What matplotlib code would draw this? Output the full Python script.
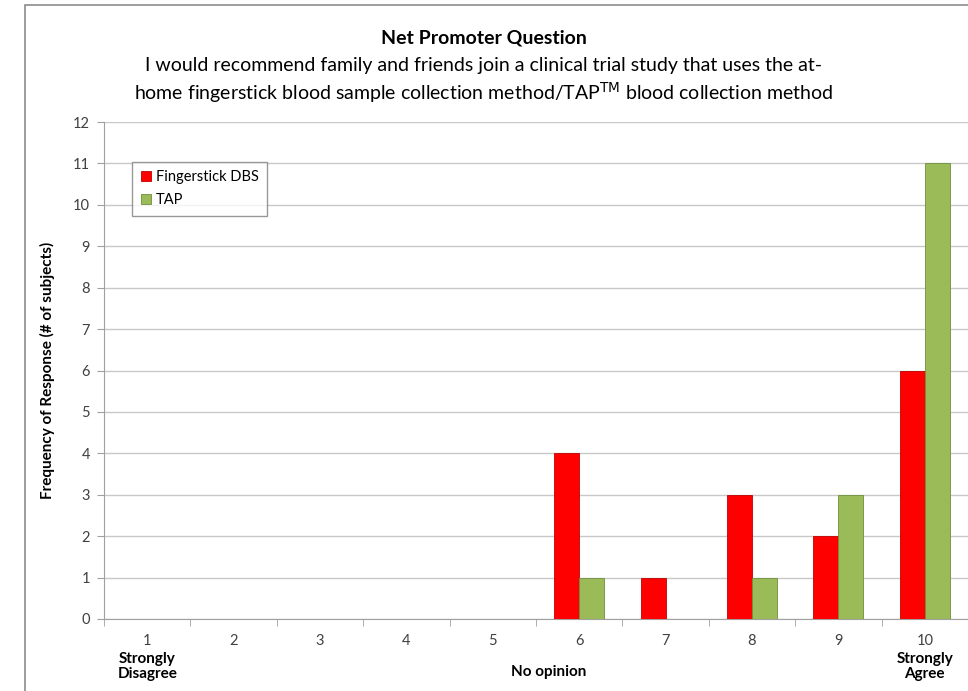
import numpy as np
import matplotlib.pyplot as plt
from matplotlib.patches import Rectangle

plt.rcParams['font.family'] = ['Lato', 'DejaVu Sans']

categories = ['1', '2', '3', '4', '5', '6', '7', '8', '9', '10']
fingerstick = [0, 0, 0, 0, 0, 4, 1, 3, 2, 6]
tap = [0, 0, 0, 0, 0, 1, 0, 1, 3, 11]
yticks = list(range(0, 13))


def main():
    fig = plt.figure(figsize=(9.68, 6.91), dpi=100)
    # outer frame (chart border, cut off on the right and bottom)
    fig.patches.append(Rectangle((25 / 968, -0.1), 1.2, 1.1 - 5 / 691,
                                 transform=fig.transFigure, fill=False,
                                 edgecolor='#8c8c8c', linewidth=1.2))

    ax = fig.add_axes([104 / 968, 1 - 619 / 691, 1 - 104 / 968, (619 - 122) / 691])
    x = np.arange(len(categories))
    w = 0.29
    ax.bar(x - w / 2, fingerstick, w, color='#ff0000', edgecolor='#c00000',
           linewidth=0.6, label='Fingerstick DBS', zorder=3)
    ax.bar(x + w / 2, tap, w, color='#9bbb59', edgecolor='#6f8f3a',
           linewidth=0.6, label='TAP', zorder=3)

    ax.set_xlim(-0.5, len(categories) - 0.5)
    ax.set_ylim(0, 12)
    ax.set_yticks(yticks)
    ax.set_xticks(x)
    ax.set_xticklabels(categories)
    ax.set_xticks(np.arange(-0.5, len(categories), 1), minor=True)
    ax.tick_params(axis='x', which='major', length=0, pad=11,
                   labelsize=10.5, labelcolor='#404040')
    ax.tick_params(axis='x', which='minor', length=5, color='#a0a0a0')
    ax.tick_params(axis='y', length=5, color='#a0a0a0', labelsize=10.5,
                   labelcolor='#404040', pad=5)
    ax.grid(axis='y', color='#c8c8c8', linewidth=1, zorder=0)
    for s in ['top', 'right']:
        ax.spines[s].set_visible(False)
    ax.spines['left'].set_color('#a0a0a0')
    ax.spines['bottom'].set_color('#a0a0a0')

    ax.set_ylabel('Frequency of Response (# of subjects)', fontsize=11,
                  fontweight='bold', labelpad=13)

    ax.text(0, -0.066, 'Strongly\nDisagree', transform=ax.get_xaxis_transform(),
            ha='center', va='top', fontsize=11, fontweight='bold',
            linespacing=1.15)
    ax.text(4.65, -0.092, 'No opinion', transform=ax.get_xaxis_transform(),
            ha='center', va='top', fontsize=11, fontweight='bold')
    ax.text(9, -0.066, 'Strongly\nAgree', transform=ax.get_xaxis_transform(),
            ha='center', va='top', fontsize=11, fontweight='bold',
            linespacing=1.15)

    fig.text(0.5, 1 - 38 / 691, 'Net Promoter Question', ha='center',
             va='center', fontsize=14, fontweight='bold')
    fig.text(0.5, 1 - 66 / 691,
             'I would recommend family and friends join a clinical trial study that uses the at-',
             ha='center', va='center', fontsize=14)
    fig.text(0.5, 1 - 93 / 691,
             'home fingerstick blood sample collection method/TAP$^{\\mathrm{TM}}$ blood collection method',
             ha='center', va='center', fontsize=14)

    leg = ax.legend(loc='upper left', bbox_to_anchor=(0.0245, 0.935),
                    fontsize=10.5, frameon=True, fancybox=False,
                    handlelength=0.7, handleheight=0.7, handletextpad=0.3,
                    labelspacing=0.6, borderpad=0.6)
    leg.get_frame().set_edgecolor('#808080')
    leg.get_frame().set_linewidth(1)

    fig.savefig('out.png', dpi=100)


if __name__ == '__main__':
    main()
